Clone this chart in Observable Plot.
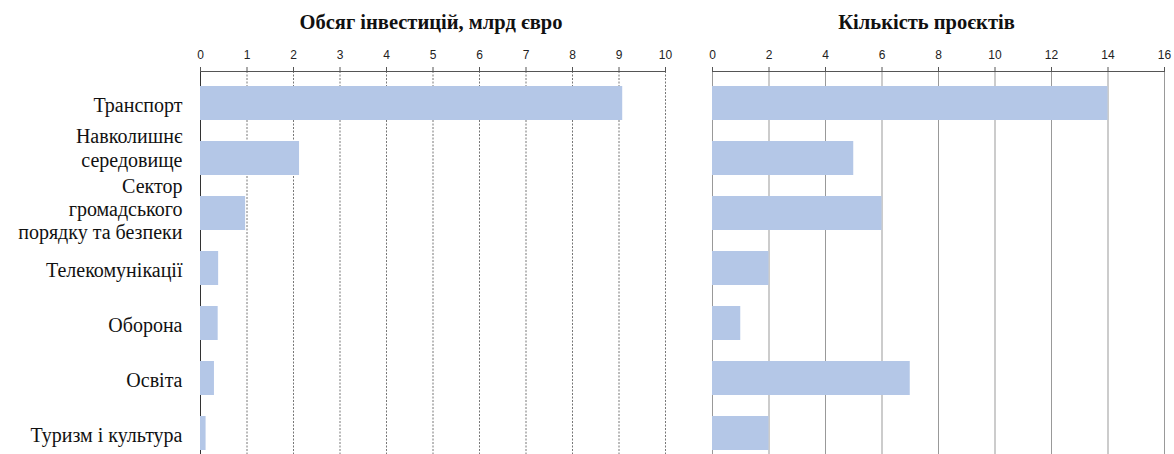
<!DOCTYPE html>
<html><head><meta charset="utf-8">
<script src="https://cdn.jsdelivr.net/npm/d3@7"></script>
<script src="https://cdn.jsdelivr.net/npm/@observablehq/plot@0.6"></script>
<style>
html,body{margin:0;padding:0;background:#fff;overflow:hidden;width:1174px;height:454px}
#wrap{position:relative;width:1174px;height:454px}
#wrap svg{position:absolute;top:0;overflow:visible}
</style></head><body><div id="wrap"></div>
<script>
const categories = ["Транспорт","Навколишнє\nсередовище","Сектор\nгромадського\nпорядку та безпеки","Телекомунікації","Оборона","Освіта","Туризм і культура"];
const investment = [9.08, 2.13, 0.97, 0.39, 0.38, 0.30, 0.12];
const projects = [14, 5, 6, 2, 1, 7, 2];
const titleLeft = "Обсяг інвестицій, млрд євро";
const titleRight = "Кількість проєктів";
const ticksLeft = [0,1,2,3,4,5,6,7,8,9,10];
const ticksRight = [0,2,4,6,8,10,12,14,16];

const dataL = categories.map((c,i)=>({c, v: investment[i]}));
const dataR = categories.map((c,i)=>({c, v: projects[i]}));
const barColor = "#B4C7E7";
const serif = "'Liberation Serif','Times New Roman',serif";
const sans = "'Liberation Sans',Arial,sans-serif";
const lines = c => c.split("\n").length;
const oneLine = categories.filter(c => lines(c) === 1);
const twoLine = categories.filter(c => lines(c) === 2);
const threeLine = categories.filter(c => lines(c) === 3);

function panel({data, width, ml, mr, domain, ticks, title, showY, grid, leftLine, titleDx}) {
  const yAxisOpts = {anchor: "left", tickSize: 0, tickPadding: 18, fontSize: 20,
    fill: "#111", lineHeight: 1.17, label: null, className: "ycat"};
  const svg = Plot.plot({
    width, height: 464,
    marginLeft: ml, marginRight: mr, marginTop: 71, marginBottom: 0,
    style: {background: "transparent", overflow: "visible", fontFamily: serif},
    x: {domain, axis: null},
    y: {domain: categories, paddingInner: 0.39, paddingOuter: 0.21, axis: null},
    marks: [
      Plot.gridX(ticks, grid),
      Plot.ruleX([0], {stroke: leftLine, strokeWidth: 1}),
      Plot.barX(data, {x: "v", y: "c", fill: barColor}),
      Plot.frame({anchor: "top", stroke: "#555", strokeWidth: 1}),
      Plot.axisX({anchor: "top", ticks, tickSize: 5, tickPadding: 8, stroke: "#555", label: null,
        fontSize: 12, fontFamily: sans, fill: "#222", tickFormat: d => String(d)}),
      showY ? Plot.axisY(oneLine, {...yAxisOpts, dy: 1}) : null,
      showY ? Plot.axisY(twoLine, {...yAxisOpts, dy: -11}) : null,
      showY ? Plot.axisY(threeLine, {...yAxisOpts, dy: -5}) : null,
      Plot.text([title], {frameAnchor: "top", dy: -49, dx: titleDx, text: d => d,
        fontSize: 20.5, fontWeight: "bold", fontFamily: serif, fill: "#111", lineAnchor: "middle"})
    ]
  });
  d3.select(svg).selectAll("g[aria-label='x-axis tick label']").attr("font-family", sans);
  d3.select(svg).selectAll("g[aria-label='y-axis tick label']").attr("font-family", serif);
  return svg;
}

const left = panel({data: dataL, width: 690, ml: 200, mr: 25, domain: [0,10], ticks: ticksLeft,
  title: titleLeft, showY: true,
  grid: {stroke: "#777", strokeOpacity: 1, strokeDasharray: "2,1.5"}, leftLine: "#333", titleDx: -2});
const right = panel({data: dataR, width: 484, ml: 22, mr: 10, domain: [0,16], ticks: ticksRight,
  title: titleRight, showY: false,
  grid: {stroke: "#999", strokeOpacity: 1}, leftLine: "#999", titleDx: -12});
left.style.left = "0px";
right.style.left = "690px";
const wrap = document.getElementById("wrap");
wrap.appendChild(left);
wrap.appendChild(right);
</script></body></html>
